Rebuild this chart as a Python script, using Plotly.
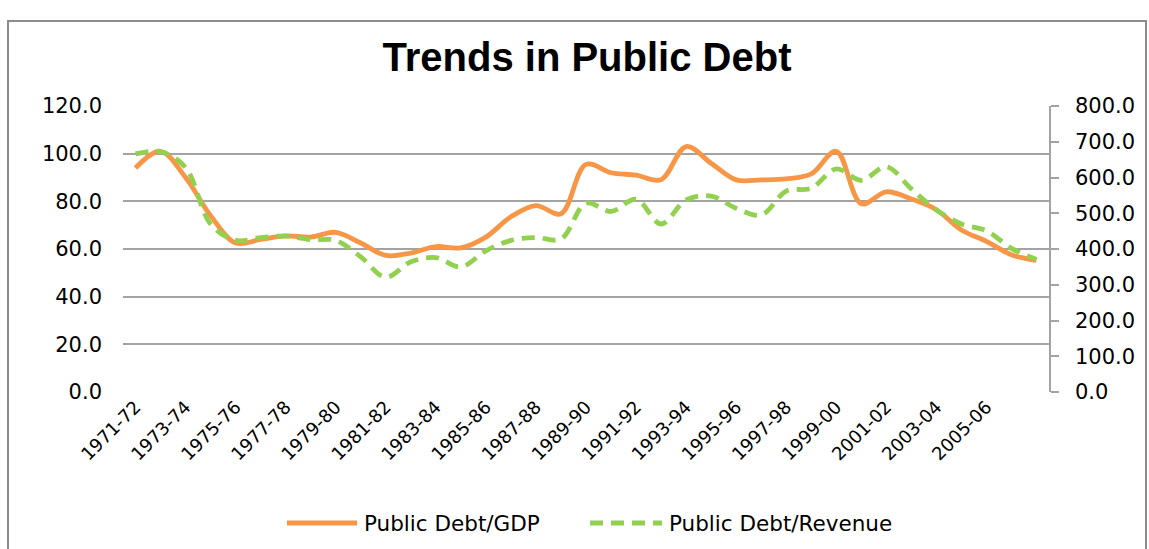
import plotly.graph_objects as go

years = ["1971-72", "1972-73", "1973-74", "1974-75", "1975-76", "1976-77", "1977-78",
         "1978-79", "1979-80", "1980-81", "1981-82", "1982-83", "1983-84", "1984-85",
         "1985-86", "1986-87", "1987-88", "1988-89", "1989-90", "1990-91", "1991-92",
         "1992-93", "1993-94", "1994-95", "1995-96", "1996-97", "1997-98", "1998-99",
         "1999-00", "2000-01", "2001-02", "2002-03", "2003-04", "2004-05", "2005-06",
         "2006-07", "2007-08"]

debt_gdp = [94.0, 101.0, 90.0, 74.0, 62.5, 64.0, 65.5, 65.0, 67.0, 62.5, 57.3, 58.3,
            61.0, 60.5, 65.0, 73.5, 78.2, 74.8, 95.5, 92.0, 91.0, 89.1, 103.0, 96.0,
            89.0, 89.0, 89.4, 91.5, 101.0, 79.0, 84.0, 81.0, 76.5, 68.0, 63.2, 57.6, 55.2]

debt_rev = [666, 672, 628, 470, 424, 432, 436, 426, 424, 378, 321, 364, 376, 350, 395,
            424, 432, 428, 528, 505, 539, 470, 537, 548, 514, 495, 562, 570, 624, 592,
            630, 568, 509, 470, 451, 402, 371]

tick_labels = ["1971-72", "1973-74", "1975-76", "1977-78", "1979-80", "1981-82",
               "1983-84", "1985-86", "1987-88", "1989-90", "1991-92", "1993-94",
               "1995-96", "1997-98", "1999-00", "2001-02", "2003-04", "2005-06"]

ORANGE = "#F79646"
GREEN = "#92D050"
GRID = "#A3A3A3"
FONT = "DejaVu Sans"

fig = go.Figure()
fig.add_trace(go.Scatter(x=years, y=debt_gdp, name="Public Debt/GDP", mode="lines",
                         line=dict(color=ORANGE, width=4.8, shape="spline", smoothing=1.0),
                         yaxis="y"))
fig.add_trace(go.Scatter(x=years, y=debt_rev, name="Public Debt/Revenue", mode="lines",
                         line=dict(color=GREEN, width=4.8, shape="spline", smoothing=1.0,
                                   dash="13px,8px"),
                         yaxis="y2"))

L, R, T, B = 123, 100, 106, 157
W, H = 1149, 549
pw = W - L - R
ph = H - T - B


def px_x(px):
    return (px - L) / pw


def px_y(py):
    return (H - B - py) / ph


# outer frame
fig.add_shape(type="rect", xref="paper", yref="paper",
              x0=px_x(8), x1=px_x(1146), y0=px_y(600), y1=px_y(21),
              line=dict(color="#8C8C8C", width=2), fillcolor="rgba(0,0,0,0)", layer="below")

# custom legend
leg_y = px_y(523)
fig.add_shape(type="line", xref="paper", yref="paper", x0=px_x(287), x1=px_x(357),
              y0=leg_y, y1=leg_y, line=dict(color=ORANGE, width=4.8))
fig.add_shape(type="line", xref="paper", yref="paper", x0=px_x(590), x1=px_x(662),
              y0=leg_y, y1=leg_y, line=dict(color=GREEN, width=4.8, dash="13px,8px"))
fig.add_annotation(xref="paper", yref="paper", x=px_x(362), y=leg_y, text="Public Debt/GDP",
                   showarrow=False, xanchor="left", yanchor="middle",
                   font=dict(family=FONT, size=21.5, color="#000000"))
fig.add_annotation(xref="paper", yref="paper", x=px_x(667), y=leg_y, text="Public Debt/Revenue",
                   showarrow=False, xanchor="left", yanchor="middle",
                   font=dict(family=FONT, size=21.5, color="#000000"))

fig.update_layout(
    width=W, height=H,
    margin=dict(l=L, r=R, t=T, b=B, autoexpand=False),
    paper_bgcolor="white", plot_bgcolor="white",
    showlegend=False,
    title=dict(text="<b>Trends in Public Debt</b>", xref="container", yref="container",
               x=587 / W, y=1 - 57 / H, xanchor="center", yanchor="middle",
               font=dict(family="Liberation Sans", size=40, color="#000000")),
    xaxis=dict(type="category", categoryorder="array", categoryarray=years,
               range=[-0.5, len(years) - 0.5],
               tickmode="array", tickvals=tick_labels, ticktext=tick_labels,
               tickangle=-45, showgrid=False, showline=False, ticks="",
               tickfont=dict(family=FONT, size=18, color="#000000"), zeroline=False),
    yaxis=dict(range=[0, 120], dtick=20, tickformat=".1f", showgrid=True,
               gridcolor=GRID, gridwidth=1.5, zeroline=False, showline=False,
               ticks="", ticklabelstandoff=20,
               tickfont=dict(family=FONT, size=21, color="#000000")),
    yaxis2=dict(range=[0, 800], dtick=100, tickformat=".1f", overlaying="y", side="right",
                showgrid=False, zeroline=False, showline=True, linecolor=GRID, linewidth=1.5,
                ticks="outside", ticklen=8, tickcolor=GRID, tickwidth=1.5,
                ticklabelstandoff=12,
                tickfont=dict(family=FONT, size=21, color="#000000")),
)

fig.write_html("out.html", config={"displayModeBar": False},
               post_script="document.body.style.margin='0';document.body.style.overflow='hidden';")
